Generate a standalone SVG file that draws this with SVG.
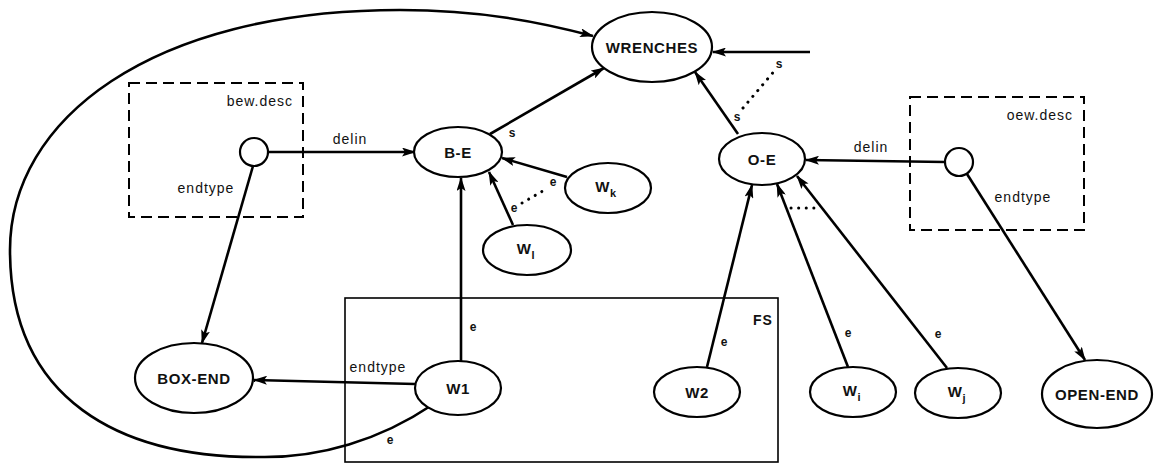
<svg xmlns="http://www.w3.org/2000/svg" width="1154" height="467" viewBox="0 0 1154 467">
<style>
.node ellipse{fill:#fff;stroke:#000;stroke-width:2.2}
.nl{font-family:"Liberation Sans",Arial,sans-serif;font-size:15px;font-weight:bold;letter-spacing:0.6px;text-anchor:middle;fill:#111}
.lbl{font-family:"Liberation Sans",Arial,sans-serif;font-size:14px;letter-spacing:1px;fill:#111}
.sm{font-family:"Liberation Sans",Arial,sans-serif;font-size:12px;font-weight:bold;fill:#111;text-anchor:middle}
.edge{fill:none;stroke:#000;stroke-width:2.6;marker-end:url(#ah)}
.plain{fill:none;stroke:#000;stroke-width:2.6}
.dots{fill:none;stroke:#000;stroke-width:3;stroke-dasharray:0.1 7.5;stroke-linecap:round}
.dash{fill:none;stroke:#000;stroke-width:2;stroke-dasharray:11 6}
.fs{fill:none;stroke:#000;stroke-width:1.6}
</style>
<defs>
<marker id="ah" markerUnits="userSpaceOnUse" markerWidth="14" markerHeight="9" refX="13" refY="4.5" orient="auto">
<path d="M0,0 L14,4.5 L0,9 L3,4.5 z" fill="#000"/>
</marker>
</defs>
<rect width="1154" height="467" fill="#fff"/>

<g id="bew-desc">
<rect class="dash" x="129" y="83" width="174" height="134"/>
<text class="lbl" x="293" y="106" text-anchor="end">bew.desc</text>
<circle cx="254" cy="152" r="14" fill="#fff" stroke="#000" stroke-width="2.2"/>
</g>
<g id="oew-desc">
<rect class="dash" x="910" y="97" width="174" height="133"/>
<text class="lbl" x="1073" y="120" text-anchor="end">oew.desc</text>
<circle cx="959" cy="162" r="14" fill="#fff" stroke="#000" stroke-width="2.2"/>
</g>
<g id="FS">
<rect class="fs" x="345" y="298" width="433" height="164"/>
<text class="lbl" x="763" y="325" text-anchor="middle" font-weight="bold">FS</text>
</g>

<g id="connectors">
<path class="edge" d="M432,405 C380,440 320,458 260,457 C120,458 10,400 10,250 C10,120 150,10 400,10 C480,10 540,22 593,36"/>
<path class="edge" d="M490,134 L604,68"/>
<path class="edge" d="M738,134 L695,72"/>
<path class="edge" d="M810,52 L713,52"/>
<path class="dots" d="M743,108 L776,69"/>
<path class="edge" d="M268,152 L415,152"/>
<path class="edge" d="M253,166 L202,343"/>
<path class="edge" d="M567,177 L502,158"/>
<path class="edge" d="M513,225 L489,172"/>
<path class="dots" d="M522,203 L548,188"/>
<path class="edge" d="M461,361 L461,178"/>
<path class="edge" d="M415,384 L254,380"/>
<path class="edge" d="M707,367 L752,185"/>
<path class="edge" d="M848,367 L777,184"/>
<path class="edge" d="M947,368 L797,176"/>
<path class="dots" d="M791,208 L821,208"/>
<path class="edge" d="M945,162 L806,160"/>
<path class="edge" d="M967,174 L1085,360"/>
<text class="lbl" x="350" y="144" text-anchor="middle">delin</text>
<text class="lbl" x="206" y="193" text-anchor="middle">endtype</text>
<text class="lbl" x="378" y="372" text-anchor="middle">endtype</text>
<text class="lbl" x="871" y="152" text-anchor="middle">delin</text>
<text class="lbl" x="1023" y="202" text-anchor="middle">endtype</text>
<text class="sm" x="512" y="137">s</text>
<text class="sm" x="737" y="121">s</text>
<text class="sm" x="779" y="68">s</text>
<text class="sm" x="553" y="186">e</text>
<text class="sm" x="514" y="212">e</text>
<text class="sm" x="473" y="331">e</text>
<text class="sm" x="390" y="444">e</text>
<text class="sm" x="724" y="346">e</text>
<text class="sm" x="848" y="337">e</text>
<text class="sm" x="938" y="338">e</text>
</g>

<g id="WRENCHES" class="node"><ellipse cx="652" cy="47" rx="60" ry="35"/><text class="nl" x="652" y="53">WRENCHES</text></g>
<g id="B-E" class="node"><ellipse cx="458" cy="152" rx="44" ry="25"/><text class="nl" x="458" y="158">B-E</text></g>
<g id="O-E" class="node"><ellipse cx="762" cy="159" rx="43" ry="26"/><text class="nl" x="762" y="165">O-E</text></g>
<g id="Wk" class="node"><ellipse cx="608" cy="188" rx="43" ry="25"/><text class="nl" x="606" y="192">W<tspan font-size="11" dy="5">k</tspan></text></g>
<g id="Wl" class="node"><ellipse cx="527" cy="250" rx="44" ry="25"/><text class="nl" x="526" y="254">W<tspan font-size="11" dy="5">l</tspan></text></g>
<g id="BOX-END" class="node"><ellipse cx="194" cy="378" rx="59" ry="35"/><text class="nl" x="194" y="384">BOX-END</text></g>
<g id="W1" class="node"><ellipse cx="458" cy="388" rx="43" ry="27"/><text class="nl" x="458" y="394">W1</text></g>
<g id="W2" class="node"><ellipse cx="697" cy="392" rx="43" ry="25"/><text class="nl" x="697" y="398">W2</text></g>
<g id="Wi" class="node"><ellipse cx="853" cy="392" rx="43" ry="25"/><text class="nl" x="852" y="396">W<tspan font-size="11" dy="5">i</tspan></text></g>
<g id="Wj" class="node"><ellipse cx="958" cy="393" rx="43" ry="25"/><text class="nl" x="957" y="397">W<tspan font-size="11" dy="5">j</tspan></text></g>
<g id="OPEN-END" class="node"><ellipse cx="1097" cy="394" rx="55" ry="34"/><text class="nl" x="1097" y="400">OPEN-END</text></g>
</svg>
